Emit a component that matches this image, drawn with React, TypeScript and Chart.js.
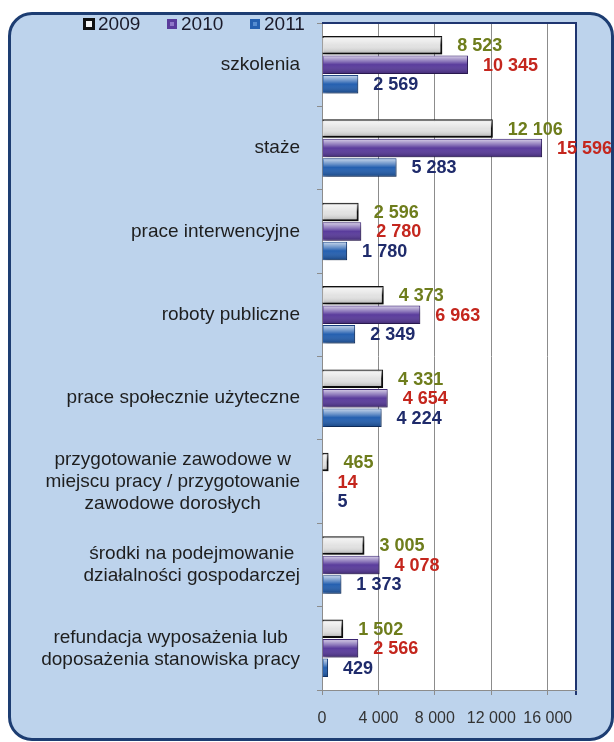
import React, { useEffect, useRef } from 'react';
import { Chart, registerables } from 'chart.js';

Chart.register(...registerables);

const categories: (string | string[])[] = [
  'szkolenia',
  'staże',
  'prace interwencyjne',
  'roboty publiczne',
  'prace społecznie użyteczne',
  ['przygotowanie zawodowe w', 'miejscu pracy / przygotowanie', 'zawodowe dorosłych'],
  ['środki na podejmowanie', 'działalności gospodarczej'],
  ['refundacja wyposażenia lub', 'doposażenia stanowiska pracy'],
];
const seriesNames = ['2009', '2010', '2011'];
const values2009 = [8523, 12106, 2596, 4373, 4331, 465, 3005, 1502];
const values2010 = [10345, 15596, 2780, 6963, 4654, 14, 4078, 2566];
const values2011 = [2569, 5283, 1780, 2349, 4224, 5, 1373, 429];
const xTickValues = [0, 4000, 8000, 12000, 16000];
const xMax = 18000;

const FONT = "'Liberation Sans', Arial, sans-serif";
const fmt = (v: number) => String(v).replace(/\B(?=(\d{3})+(?!\d))/g, ' ');

const labelColors = ['#6e7d1c', '#c4261d', '#1f2b6b'];

const plotBgPlugin = {
  id: 'plotBg',
  beforeDraw(chart: any) {
    const { ctx, chartArea: a } = chart;
    ctx.save();
    ctx.fillStyle = '#ffffff';
    ctx.fillRect(a.left, a.top, a.right - a.left, a.bottom - a.top);
    ctx.restore();
  },
  afterDraw(chart: any) {
    const { ctx, chartArea: a } = chart;
    ctx.save();
    ctx.strokeStyle = '#1f3570';
    ctx.lineWidth = 2;
    ctx.beginPath();
    ctx.moveTo(a.left, a.top);
    ctx.lineTo(a.right + 1, a.top);
    ctx.stroke();
    ctx.restore();
  },
};

const yLabelPlugin = {
  id: 'yLabels',
  afterDraw(chart: any) {
    const { ctx } = chart;
    const yScale = chart.scales.y;
    const rightEdge = chart.chartArea.left - 22;
    const lineH = 22;
    ctx.save();
    ctx.font = `19px ${FONT}`;
    ctx.fillStyle = '#1e1e1e';
    ctx.textAlign = 'center';
    ctx.textBaseline = 'middle';
    (chart.data.labels as (string | string[])[]).forEach((lab, i) => {
      const lines = Array.isArray(lab) ? lab : [lab];
      const widest = Math.max(...lines.map((l) => ctx.measureText(l).width));
      const cx = rightEdge - widest / 2;
      const cy = yScale.getPixelForTick(i);
      lines.forEach((l, j) => {
        ctx.fillText(l, cx, cy + (j - (lines.length - 1) / 2) * lineH);
      });
    });
    ctx.restore();
  },
};

const barFxPlugin = {
  id: 'barFx',
  beforeDatasetsDraw(chart: any) {
    const ctx = chart.ctx;
    ctx.save();
    ctx.shadowColor = 'rgba(0,0,0,0.35)';
    ctx.shadowBlur = 4;
    ctx.shadowOffsetX = 2;
    ctx.shadowOffsetY = 3;
  },
  afterDatasetsDraw(chart: any) {
    const ctx = chart.ctx;
    ctx.restore();
    ctx.save();
    chart.data.datasets.forEach((ds: any, i: number) => {
      const meta = chart.getDatasetMeta(i);
      meta.data.forEach((el: any, j: number) => {
        const { x, y, base, height } = el.getProps(['x', 'y', 'base', 'height'], true);
        const left = Math.min(x, base) + 1;
        const w = Math.abs(x - base) - 2;
        const top = y - height / 2 + 1;
        const h = height - 2;
        if (w > 1) {
          const g = ctx.createLinearGradient(0, top, 0, top + h);
          g.addColorStop(0, 'rgba(255,255,255,0.7)');
          g.addColorStop(0.3, 'rgba(255,255,255,0.3)');
          g.addColorStop(0.5, 'rgba(255,255,255,0)');
          g.addColorStop(1, 'rgba(0,0,0,0.22)');
          ctx.fillStyle = g;
          ctx.fillRect(left, top, w, h);
        }
        ctx.font = `bold 18px ${FONT}`;
        ctx.fillStyle = labelColors[i];
        ctx.textAlign = 'left';
        ctx.textBaseline = 'middle';
        ctx.fillText(fmt(ds.data[j]), Math.max(x, base) + 15, y + 1);
      });
    });
    ctx.restore();
  },
};

const legendPlugin = {
  id: 'customLegend',
  afterDraw(chart: any) {
    const ctx = chart.ctx;
    const xs = [83, 166, 249];
    const cy = 24;
    ctx.save();
    chart.data.datasets.forEach((ds: any, i: number) => {
      const x = xs[i];
      if (i === 0) {
        ctx.fillStyle = '#111';
        ctx.fillRect(x, cy - 6, 12, 12);
        ctx.fillStyle = '#f4f4f4';
        ctx.fillRect(x + 3, cy - 3, 6, 6);
      } else {
        ctx.fillStyle = i === 1 ? '#5a3c9c' : '#2560b0';
        ctx.fillRect(x + 1, cy - 5, 10, 10);
        ctx.fillStyle = i === 1 ? 'rgba(180,160,230,0.6)' : 'rgba(120,170,230,0.6)';
        ctx.fillRect(x + 4, cy - 2, 4, 4);
      }
      ctx.font = `19px ${FONT}`;
      ctx.fillStyle = '#1a1a2a';
      ctx.textAlign = 'left';
      ctx.textBaseline = 'middle';
      ctx.fillText(ds.label, x + 15, cy + 1);
    });
    ctx.restore();
  },
};

export default function App() {
  const canvasRef = useRef<HTMLCanvasElement | null>(null);

  useEffect(() => {
    if (!canvasRef.current) return;
    const chart = new Chart(canvasRef.current, {
      type: 'bar',
      data: {
        labels: categories as any,
        datasets: [
          {
            label: seriesNames[0],
            data: values2009,
            backgroundColor: '#e2e2e2',
            borderColor: '#111111',
            borderWidth: 2,
          },
          {
            label: seriesNames[1],
            data: values2010,
            backgroundColor: '#5a3c9c',
            borderColor: '#3a2470',
            borderWidth: 1,
          },
          {
            label: seriesNames[2],
            data: values2011,
            backgroundColor: '#2560b0',
            borderColor: '#163f80',
            borderWidth: 1,
          },
        ],
      },
      options: {
        indexAxis: 'y',
        responsive: false,
        animation: false,
        datasets: { bar: { categoryPercentage: 0.7, barPercentage: 0.95 } },
        layout: { padding: { top: 23, right: 38, bottom: 0, left: 0 } },
        plugins: { legend: { display: false }, tooltip: { enabled: false } },
        scales: {
          x: {
            min: 0,
            max: xMax,
            afterBuildTicks: (s: any) => {
              s.ticks = [...xTickValues, xMax].map((v) => ({ value: v }));
            },
            afterFit: (s: any) => {
              s.height = 52;
            },
            grid: {
              color: (c: any) => (c.tick && c.tick.value === xMax ? '#1f3570' : '#8c8c8c'),
              lineWidth: (c: any) => (c.tick && c.tick.value === xMax ? 2 : 1),
              tickLength: 5,
            },
            border: { display: true, color: '#8c8c8c' },
            ticks: {
              callback: (v: any) => (v === xMax ? '' : fmt(Number(v))),
              font: { family: FONT, size: 16 },
              color: '#333333',
              padding: 14,
              maxRotation: 0,
              autoSkip: false,
            },
          },
          y: {
            afterFit: (s: any) => {
              s.width = 322;
            },
            grid: { drawOnChartArea: false, tickLength: 5, color: '#8c8c8c' },
            border: { display: true, color: '#8c8c8c' },
            ticks: { display: false },
          },
        },
      },
      plugins: [plotBgPlugin, barFxPlugin, yLabelPlugin, legendPlugin],
    } as any);
    return () => chart.destroy();
  }, []);

  return (
    <div
      style={{
        position: 'absolute',
        left: 0,
        top: 0,
        width: 614,
        height: 742,
        overflow: 'hidden',
        background: '#ffffff',
      }}
    >
      <div
        style={{
          position: 'absolute',
          left: 8,
          top: 12,
          width: 606,
          height: 729,
          boxSizing: 'border-box',
          border: '3px solid #1d3d72',
          borderRadius: 24,
          background: '#bdd3ec',
        }}
      />
      <canvas
        ref={canvasRef}
        width={614}
        height={742}
        style={{ position: 'absolute', left: 0, top: 0, width: 614, height: 742 }}
      />
    </div>
  );
}
